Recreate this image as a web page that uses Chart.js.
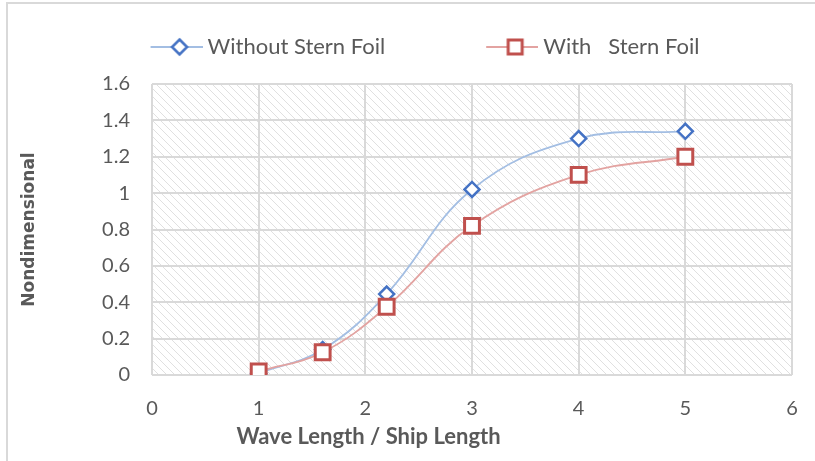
<!DOCTYPE html>
<html>
<head>
<meta charset="utf-8">
<script src="https://cdn.jsdelivr.net/npm/chart.js@4.4.1/dist/chart.umd.min.js"></script>
<style>
  html, body { margin: 0; padding: 0; background: #fff; }
  #wrap { position: relative; width: 815px; height: 461px; }
</style>
</head>
<body>
<div id="wrap"><canvas id="c" width="815" height="461"></canvas></div>
<script>
// Wave length / ship length ratios at which the response was evaluated
const ratioWithout = [1, 1.6, 2.2, 3, 4, 5];
const valuesWithout = [0.01, 0.14, 0.445, 1.02, 1.30, 1.34];
const ratioWith = [1, 1.6, 2.2, 3, 4, 5];
const valuesWith = [0.02, 0.125, 0.375, 0.82, 1.10, 1.20];
const seriesNames = ['Without Stern Foil', 'With   Stern Foil'];
const xTitle = 'Wave Length / Ship Length';
const yTitle = 'Nondimensional';
const xTicks = [0, 1, 2, 3, 4, 5, 6];
const yTicks = [0, 0.2, 0.4, 0.6, 0.8, 1, 1.2, 1.4, 1.6];

const FONT = 'Lato, "Open Sans", sans-serif';
const TEXT = '#595959';
const BLUE = '#4472C4', BLUE_LINE = '#A3BEE3';
const RED = '#C0504D', RED_LINE = '#E3A3A1';

// Legend symbol: short line with the series marker on it
function legendSymbol(lineColor, markerColor, shape) {
  const cv = document.createElement('canvas');
  cv.width = 64; cv.height = 22;
  const g = cv.getContext('2d');
  g.strokeStyle = lineColor; g.lineWidth = 2;
  g.beginPath(); g.moveTo(12, 11); g.lineTo(64, 11); g.stroke();
  g.fillStyle = '#fff'; g.strokeStyle = markerColor;
  g.beginPath();
  if (shape === 'diamond') {
    g.lineWidth = 2.5;
    g.moveTo(41, 3.5); g.lineTo(48.5, 11); g.lineTo(41, 18.5); g.lineTo(33.5, 11); g.closePath();
  } else {
    g.lineWidth = 3;
    g.rect(34, 4, 14, 14);
  }
  g.fill(); g.stroke();
  return cv;
}

function toPoints(xs, ys) { return xs.map((x, i) => ({ x, y: ys[i] })); }

// Hatched plot background plus the thin frame around the figure
const backdrop = {
  id: 'backdrop',
  beforeDraw(chart) {
    const { ctx, chartArea: a } = chart;
    ctx.save();
    ctx.fillStyle = '#fff';
    ctx.fillRect(0, 0, chart.width, chart.height);
    ctx.strokeStyle = '#D9D9D9'; ctx.lineWidth = 2;
    ctx.strokeRect(7, 3, chart.width + 20, chart.height + 20);
    const tile = document.createElement('canvas');
    tile.width = 8; tile.height = 8;
    const t = tile.getContext('2d');
    t.strokeStyle = '#E0E0E0'; t.lineWidth = 1;
    t.beginPath();
    t.moveTo(-1, -1); t.lineTo(9, 9);
    t.moveTo(-1, 7); t.lineTo(1, 9);
    t.moveTo(7, -1); t.lineTo(9, 1);
    t.stroke();
    ctx.fillStyle = ctx.createPattern(tile, 'repeat');
    ctx.fillRect(a.left, a.top, a.right - a.left, a.bottom - a.top);
    ctx.restore();
  },
  // x-axis title, set a little left of the plot centre
  afterDraw(chart) {
    const { ctx } = chart;
    const xs = chart.scales.x;
    ctx.save();
    ctx.fillStyle = TEXT;
    ctx.font = 'bold 22px ' + FONT;
    ctx.textAlign = 'center';
    ctx.textBaseline = 'middle';
    ctx.fillText(xTitle, xs.getPixelForValue(2.03), xs.bottom - 24);
    ctx.restore();
  }
};

// Place the legend row above the plot
const legendPlacement = {
  id: 'legendPlacement',
  afterLayout(chart) {
    const lg = chart.legend;
    if (!lg) return;
    lg.left += 26; lg.right += 26;
    lg.top = -59; lg.bottom = lg.top + 150;
  }
};

new Chart(document.getElementById('c'), {
  type: 'scatter',
  data: {
    datasets: [
      {
        label: seriesNames[0],
        data: toPoints(ratioWithout, valuesWithout),
        showLine: true,
        tension: 0.4,
        borderColor: BLUE_LINE,
        borderWidth: 1.8,
        pointStyle: 'rectRot',
        pointRadius: 7.5,
        pointHoverRadius: 7.5,
        pointBorderColor: BLUE,
        pointBackgroundColor: '#fff',
        pointBorderWidth: 2.5,
        order: 1
      },
      {
        label: seriesNames[1],
        data: toPoints(ratioWith, valuesWith),
        showLine: true,
        tension: 0.4,
        borderColor: RED_LINE,
        borderWidth: 1.8,
        pointStyle: 'rect',
        pointRadius: 10.5,
        pointHoverRadius: 10.5,
        pointBorderColor: RED,
        pointBackgroundColor: '#fff',
        pointBorderWidth: 3,
        order: 0
      }
    ]
  },
  options: {
    responsive: false,
    animation: false,
    events: [],
    layout: { padding: { top: 0, right: 23, bottom: 0, left: 0 } },
    plugins: {
      tooltip: { enabled: false },
      legend: {
        position: 'top',
        maxHeight: 84,
        labels: {
          usePointStyle: true,
          pointStyleWidth: 52,
          padding: 95,
          color: TEXT,
          font: { family: FONT, size: 22 },
          sort: (a, b) => a.datasetIndex - b.datasetIndex,
          generateLabels(chart) {
            const syms = [legendSymbol(BLUE_LINE, BLUE, 'diamond'), legendSymbol(RED_LINE, RED, 'square')];
            return chart.data.datasets.map((ds, i) => ({
              text: ds.label, datasetIndex: i, pointStyle: syms[i],
              fillStyle: '#fff', strokeStyle: ds.pointBorderColor, lineWidth: 0, hidden: false,
              fontColor: TEXT
            }));
          }
        }
      }
    },
    scales: {
      x: {
        type: 'linear',
        min: 0, max: 6,
        afterBuildTicks(scale) { scale.ticks = xTicks.map(v => ({ value: v })); },
        afterFit(scale) { scale.height = 86; scale.paddingLeft = 0; scale.paddingRight = 0; },
        grid: { color: '#D9D9D9', lineWidth: 2, drawTicks: false },
        border: { display: false },
        ticks: { color: TEXT, padding: 22, font: { family: FONT, size: 20 }, callback: v => String(v) }
      },
      y: {
        min: 0, max: 1.6,
        afterBuildTicks(scale) { scale.ticks = yTicks.map(v => ({ value: v })); },
        afterFit(scale) { scale.width = 152; },
        grid: { color: '#D9D9D9', lineWidth: 2, drawTicks: false },
        border: { display: false },
        ticks: { color: TEXT, padding: 22, font: { family: FONT, size: 20 }, callback: v => String(v) },
        title: {
          display: true, text: yTitle, color: TEXT,
          font: { family: '"DejaVu Sans", sans-serif', size: 17, weight: 'bold' }, padding: { top: 19, bottom: 0 }
        }
      }
    }
  },
  plugins: [backdrop, legendPlacement]
});
</script>
</body>
</html>
